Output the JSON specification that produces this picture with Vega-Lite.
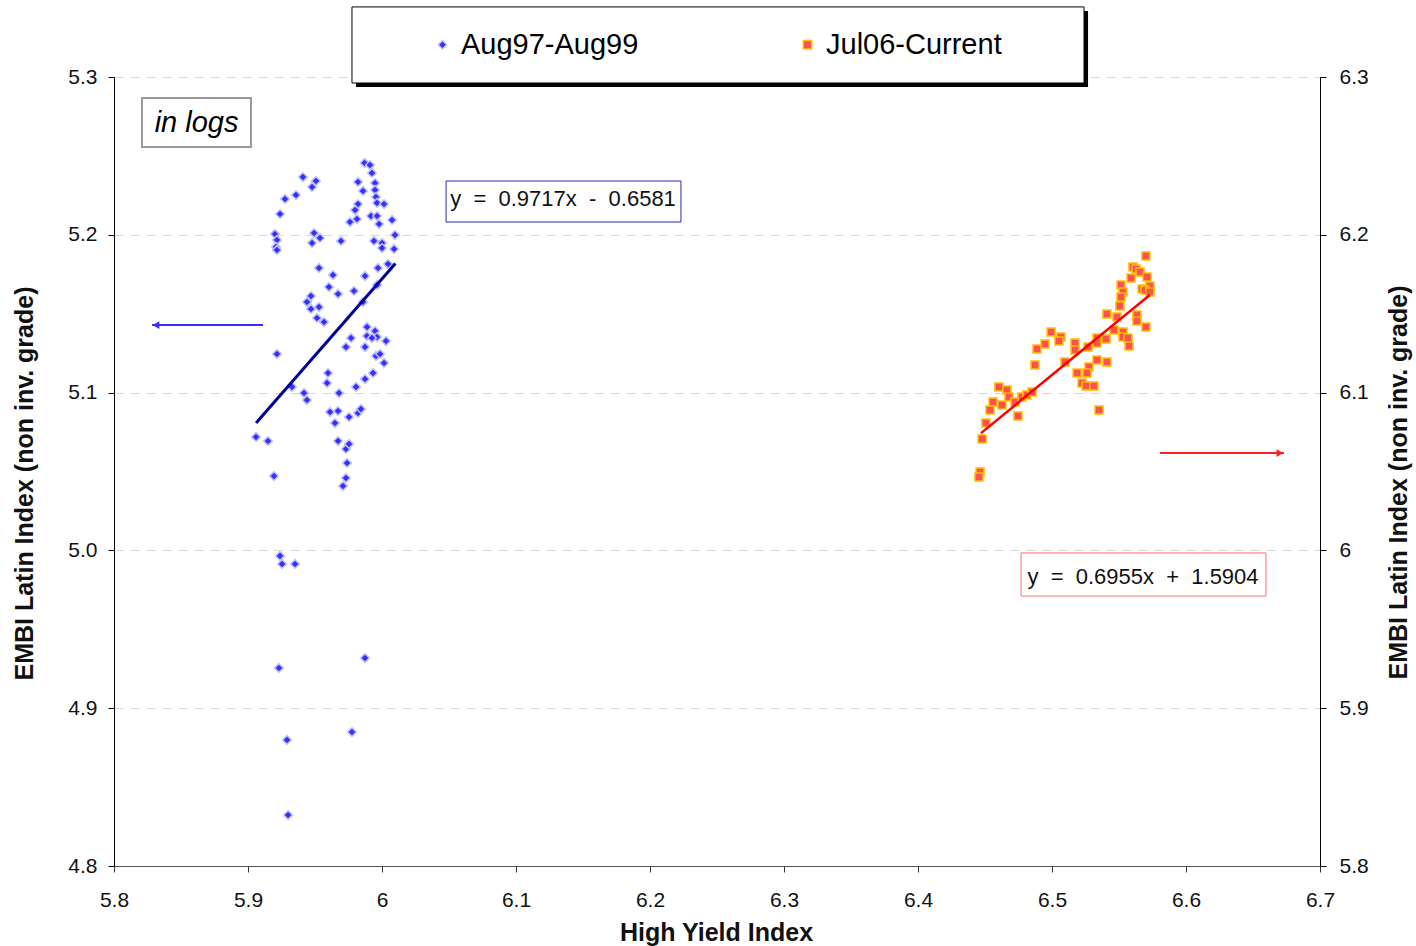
{
  "$schema": "https://vega.github.io/schema/vega-lite/v6.json",
  "width": 1206,
  "height": 789,
  "autosize": {"type": "none"},
  "padding": {"left": 114, "top": 77, "right": 96, "bottom": 80},
  "background": "white",
  "config": {
    "view": {"stroke": null},
    "font": "Liberation Sans",
    "axis": {
      "labelFont": "Liberation Sans", "labelFontSize": 21, "labelColor": "#111",
      "titleFont": "Liberation Sans", "titleFontSize": 25, "titleFontWeight": "bold", "titleColor": "#111",
      "tickColor": "#000", "domainColor": "#000", "tickSize": 6, "labelFlush": false,
      "gridColor": "#d9d9d9", "gridDash": [9, 7], "gridWidth": 1
    },
    "legend": {
      "orient": "none", "legendX": 314, "legendY": -47, "direction": "horizontal",
      "padding": 0, "columnPadding": 154, "labelOffset": 4,
      "labelFont": "Liberation Sans", "labelFontSize": 29, "labelColor": "#000", "labelLimit": 400,
      "symbolSize": 70, "symbolStrokeWidth": 1.5
    }
  },
  "datasets": {
    "blue": [
      {"x":5.987,"y":5.2455,"s":"Aug97-Aug99"},{"x":5.991,"y":5.2442,"s":"Aug97-Aug99"},{"x":5.9925,"y":5.2392,"s":"Aug97-Aug99"},{"x":5.941,"y":5.2366,"s":"Aug97-Aug99"},{"x":5.9507,"y":5.2341,"s":"Aug97-Aug99"},{"x":5.9478,"y":5.2303,"s":"Aug97-Aug99"},{"x":5.9821,"y":5.2335,"s":"Aug97-Aug99"},{"x":5.9948,"y":5.2328,"s":"Aug97-Aug99"},{"x":5.9858,"y":5.2278,"s":"Aug97-Aug99"},{"x":5.9358,"y":5.2252,"s":"Aug97-Aug99"},
      {"x":5.9276,"y":5.2227,"s":"Aug97-Aug99"},{"x":5.9948,"y":5.2284,"s":"Aug97-Aug99"},{"x":5.9955,"y":5.224,"s":"Aug97-Aug99"},{"x":5.9821,"y":5.2195,"s":"Aug97-Aug99"},{"x":5.9799,"y":5.2157,"s":"Aug97-Aug99"},{"x":5.9963,"y":5.2202,"s":"Aug97-Aug99"},{"x":6.0015,"y":5.2195,"s":"Aug97-Aug99"},{"x":5.9239,"y":5.2132,"s":"Aug97-Aug99"},{"x":5.9761,"y":5.2081,"s":"Aug97-Aug99"},{"x":5.9813,"y":5.21,"s":"Aug97-Aug99"},
      {"x":5.9918,"y":5.2119,"s":"Aug97-Aug99"},{"x":5.9963,"y":5.2119,"s":"Aug97-Aug99"},{"x":5.9978,"y":5.2068,"s":"Aug97-Aug99"},{"x":6.0075,"y":5.2094,"s":"Aug97-Aug99"},{"x":5.9201,"y":5.2005,"s":"Aug97-Aug99"},{"x":5.9216,"y":5.1967,"s":"Aug97-Aug99"},{"x":5.9209,"y":5.1923,"s":"Aug97-Aug99"},{"x":5.9216,"y":5.1904,"s":"Aug97-Aug99"},{"x":5.9493,"y":5.2011,"s":"Aug97-Aug99"},{"x":5.9537,"y":5.198,"s":"Aug97-Aug99"},
      {"x":5.9478,"y":5.1948,"s":"Aug97-Aug99"},{"x":5.9694,"y":5.1961,"s":"Aug97-Aug99"},{"x":5.994,"y":5.1961,"s":"Aug97-Aug99"},{"x":6.0,"y":5.1948,"s":"Aug97-Aug99"},{"x":6.0,"y":5.1916,"s":"Aug97-Aug99"},{"x":6.0097,"y":5.1999,"s":"Aug97-Aug99"},{"x":6.009,"y":5.191,"s":"Aug97-Aug99"},{"x":5.953,"y":5.179,"s":"Aug97-Aug99"},{"x":5.9634,"y":5.1745,"s":"Aug97-Aug99"},{"x":5.9873,"y":5.1739,"s":"Aug97-Aug99"},
      {"x":5.997,"y":5.179,"s":"Aug97-Aug99"},{"x":6.0045,"y":5.1815,"s":"Aug97-Aug99"},{"x":5.9604,"y":5.1669,"s":"Aug97-Aug99"},{"x":5.9672,"y":5.1625,"s":"Aug97-Aug99"},{"x":5.9791,"y":5.1644,"s":"Aug97-Aug99"},{"x":5.9963,"y":5.1682,"s":"Aug97-Aug99"},{"x":5.947,"y":5.1612,"s":"Aug97-Aug99"},{"x":5.944,"y":5.1574,"s":"Aug97-Aug99"},{"x":5.953,"y":5.1542,"s":"Aug97-Aug99"},{"x":5.947,"y":5.153,"s":"Aug97-Aug99"},
      {"x":5.9515,"y":5.1473,"s":"Aug97-Aug99"},{"x":5.9567,"y":5.1447,"s":"Aug97-Aug99"},{"x":5.9858,"y":5.1574,"s":"Aug97-Aug99"},{"x":5.9888,"y":5.1416,"s":"Aug97-Aug99"},{"x":5.9948,"y":5.139,"s":"Aug97-Aug99"},{"x":5.9888,"y":5.1359,"s":"Aug97-Aug99"},{"x":5.9963,"y":5.1352,"s":"Aug97-Aug99"},{"x":6.003,"y":5.1327,"s":"Aug97-Aug99"},{"x":5.9925,"y":5.1346,"s":"Aug97-Aug99"},{"x":5.9769,"y":5.1346,"s":"Aug97-Aug99"},
      {"x":5.9731,"y":5.1289,"s":"Aug97-Aug99"},{"x":5.9873,"y":5.1289,"s":"Aug97-Aug99"},{"x":5.9216,"y":5.1245,"s":"Aug97-Aug99"},{"x":5.9955,"y":5.1232,"s":"Aug97-Aug99"},{"x":5.9985,"y":5.1245,"s":"Aug97-Aug99"},{"x":6.0015,"y":5.1188,"s":"Aug97-Aug99"},{"x":5.9597,"y":5.1124,"s":"Aug97-Aug99"},{"x":5.959,"y":5.1061,"s":"Aug97-Aug99"},{"x":5.9933,"y":5.1124,"s":"Aug97-Aug99"},{"x":5.9873,"y":5.1086,"s":"Aug97-Aug99"},
      {"x":5.9806,"y":5.1036,"s":"Aug97-Aug99"},{"x":5.9328,"y":5.1036,"s":"Aug97-Aug99"},{"x":5.9418,"y":5.0997,"s":"Aug97-Aug99"},{"x":5.944,"y":5.0953,"s":"Aug97-Aug99"},{"x":5.9679,"y":5.0997,"s":"Aug97-Aug99"},{"x":5.9612,"y":5.0877,"s":"Aug97-Aug99"},{"x":5.9672,"y":5.0883,"s":"Aug97-Aug99"},{"x":5.9649,"y":5.0807,"s":"Aug97-Aug99"},{"x":5.9754,"y":5.0845,"s":"Aug97-Aug99"},{"x":5.9821,"y":5.0871,"s":"Aug97-Aug99"},
      {"x":5.9843,"y":5.0896,"s":"Aug97-Aug99"},{"x":5.906,"y":5.0719,"s":"Aug97-Aug99"},{"x":5.9149,"y":5.0693,"s":"Aug97-Aug99"},{"x":5.9672,"y":5.0693,"s":"Aug97-Aug99"},{"x":5.9731,"y":5.0643,"s":"Aug97-Aug99"},{"x":5.9754,"y":5.0674,"s":"Aug97-Aug99"},{"x":5.9739,"y":5.0554,"s":"Aug97-Aug99"},{"x":5.9194,"y":5.0471,"s":"Aug97-Aug99"},{"x":5.9731,"y":5.0459,"s":"Aug97-Aug99"},{"x":5.9709,"y":5.0408,"s":"Aug97-Aug99"},
      {"x":5.9239,"y":4.9965,"s":"Aug97-Aug99"},{"x":5.9254,"y":4.9914,"s":"Aug97-Aug99"},{"x":5.9351,"y":4.9914,"s":"Aug97-Aug99"},{"x":5.9231,"y":4.9255,"s":"Aug97-Aug99"},{"x":5.9873,"y":4.9318,"s":"Aug97-Aug99"},{"x":5.9776,"y":4.8849,"s":"Aug97-Aug99"},{"x":5.9291,"y":4.8799,"s":"Aug97-Aug99"},{"x":5.9299,"y":4.8323,"s":"Aug97-Aug99"}
    ],
    "red": [
      {"x":6.5701,"y":6.1866,"s":"Jul06-Current"},{"x":6.5604,"y":6.1796,"s":"Jul06-Current"},{"x":6.5627,"y":6.1783,"s":"Jul06-Current"},{"x":6.5657,"y":6.1764,"s":"Jul06-Current"},{"x":6.559,"y":6.1726,"s":"Jul06-Current"},{"x":6.5709,"y":6.1733,"s":"Jul06-Current"},{"x":6.5515,"y":6.1682,"s":"Jul06-Current"},{"x":6.5731,"y":6.1676,"s":"Jul06-Current"},{"x":6.5672,"y":6.1657,"s":"Jul06-Current"},{"x":6.5694,"y":6.165,"s":"Jul06-Current"},
      {"x":6.5731,"y":6.1638,"s":"Jul06-Current"},{"x":6.553,"y":6.1638,"s":"Jul06-Current"},{"x":6.5515,"y":6.1606,"s":"Jul06-Current"},{"x":6.5507,"y":6.1549,"s":"Jul06-Current"},{"x":6.541,"y":6.1498,"s":"Jul06-Current"},{"x":6.5485,"y":6.1479,"s":"Jul06-Current"},{"x":6.5634,"y":6.1492,"s":"Jul06-Current"},{"x":6.5634,"y":6.1454,"s":"Jul06-Current"},{"x":6.5701,"y":6.1416,"s":"Jul06-Current"},{"x":6.5463,"y":6.1397,"s":"Jul06-Current"},
      {"x":6.553,"y":6.1384,"s":"Jul06-Current"},{"x":6.553,"y":6.1352,"s":"Jul06-Current"},{"x":6.5567,"y":6.1346,"s":"Jul06-Current"},{"x":6.5575,"y":6.1295,"s":"Jul06-Current"},{"x":6.5403,"y":6.134,"s":"Jul06-Current"},{"x":6.5336,"y":6.1346,"s":"Jul06-Current"},{"x":6.5336,"y":6.1314,"s":"Jul06-Current"},{"x":6.5269,"y":6.1289,"s":"Jul06-Current"},{"x":6.5172,"y":6.1314,"s":"Jul06-Current"},{"x":6.5172,"y":6.127,"s":"Jul06-Current"},
      {"x":6.4993,"y":6.1384,"s":"Jul06-Current"},{"x":6.5067,"y":6.1352,"s":"Jul06-Current"},{"x":6.5052,"y":6.1327,"s":"Jul06-Current"},{"x":6.4948,"y":6.1308,"s":"Jul06-Current"},{"x":6.4888,"y":6.1276,"s":"Jul06-Current"},{"x":6.4873,"y":6.1175,"s":"Jul06-Current"},{"x":6.5097,"y":6.1194,"s":"Jul06-Current"},{"x":6.5336,"y":6.1207,"s":"Jul06-Current"},{"x":6.541,"y":6.1194,"s":"Jul06-Current"},{"x":6.5276,"y":6.1162,"s":"Jul06-Current"},
      {"x":6.5261,"y":6.1124,"s":"Jul06-Current"},{"x":6.5187,"y":6.1124,"s":"Jul06-Current"},{"x":6.5224,"y":6.1061,"s":"Jul06-Current"},{"x":6.5254,"y":6.1042,"s":"Jul06-Current"},{"x":6.5313,"y":6.1042,"s":"Jul06-Current"},{"x":6.5351,"y":6.089,"s":"Jul06-Current"},{"x":6.4604,"y":6.1036,"s":"Jul06-Current"},{"x":6.4664,"y":6.1016,"s":"Jul06-Current"},{"x":6.4679,"y":6.0972,"s":"Jul06-Current"},{"x":6.456,"y":6.094,"s":"Jul06-Current"},
      {"x":6.4537,"y":6.089,"s":"Jul06-Current"},{"x":6.4627,"y":6.0921,"s":"Jul06-Current"},{"x":6.4724,"y":6.094,"s":"Jul06-Current"},{"x":6.4776,"y":6.0972,"s":"Jul06-Current"},{"x":6.4813,"y":6.0985,"s":"Jul06-Current"},{"x":6.4851,"y":6.1004,"s":"Jul06-Current"},{"x":6.4746,"y":6.0852,"s":"Jul06-Current"},{"x":6.4507,"y":6.0807,"s":"Jul06-Current"},{"x":6.4478,"y":6.0706,"s":"Jul06-Current"},{"x":6.4463,"y":6.0497,"s":"Jul06-Current"},
      {"x":6.4455,"y":6.0465,"s":"Jul06-Current"}
    ]
  },
  "encoding": {
    "x": {
      "field": "x", "type": "quantitative", "title": "High Yield Index",
      "scale": {"domain": [5.8, 6.7], "nice": false, "zero": false},
      "axis": {
        "orient": "bottom", "values": [5.8, 5.9, 6.0, 6.1, 6.2, 6.3, 6.4, 6.5, 6.6, 6.7], "format": ".2~f",
        "grid": false, "domainColor": "#555", "tickColor": "#333",
        "labelBaseline": "alphabetic", "labelPadding": 34,
        "titleY": 74, "titleBaseline": "alphabetic", "titleX": 602
      }
    }
  },
  "layer": [
    {
      "encoding": {
        "y": {
          "field": "y", "type": "quantitative", "title": "EMBI Latin Index (non inv. grade)",
          "scale": {"domain": [4.8, 5.3], "nice": false, "zero": false},
          "axis": {
            "orient": "left", "values": [4.8, 4.9, 5.0, 5.1, 5.2, 5.3], "format": ".1f",
            "grid": true, "labelPadding": 11,
            "titleAngle": 270, "titleX": -82, "titleY": 406, "titleAlign": "center", "titleBaseline": "alphabetic"
          }
        }
      },
      "layer": [
        {
          "data": {"values": [{"x": 5.9806, "x2": 6.5269, "y": 5.2937, "y2": 5.3419}]},
          "mark": {"type": "rect", "fill": "#000", "stroke": null},
          "encoding": {"x2": {"field": "x2"}, "y2": {"field": "y2"}}
        },
        {
          "data": {"values": [{"x": 5.9776, "x2": 6.5239, "y": 5.2962, "y2": 5.3444}]},
          "mark": {"type": "rect", "fill": "#fff", "stroke": "#000", "strokeWidth": 1},
          "encoding": {"x2": {"field": "x2"}, "y2": {"field": "y2"}}
        },
        {
          "data": {"values": [{"x": 5.8209, "x2": 5.9022, "y": 5.2556, "y2": 5.2867}]},
          "mark": {"type": "rect", "fill": "#fff", "stroke": "#999", "strokeWidth": 2},
          "encoding": {"x2": {"field": "x2"}, "y2": {"field": "y2"}}
        },
        {
          "data": {"values": [{"x": 5.8616, "y": 5.2709, "t": "in logs"}]},
          "mark": {"type": "text", "font": "Liberation Sans", "fontStyle": "italic", "fontSize": 29, "color": "#000", "align": "center", "baseline": "middle"},
          "encoding": {"text": {"field": "t"}}
        },
        {
          "data": {"values": [{"x": 6.0478, "x2": 6.2231, "y": 5.2081, "y2": 5.2341}]},
          "mark": {"type": "rect", "fill": "#fff", "stroke": "#2a2ab0", "strokeWidth": 1},
          "encoding": {"x2": {"field": "x2"}, "y2": {"field": "y2"}}
        },
        {
          "data": {"values": [{"x": 6.1351, "y": 5.2224, "t": "y \u00a0=\u00a0 0.9717x \u00a0-\u00a0 0.6581"}]},
          "mark": {"type": "text", "font": "Liberation Sans", "fontSize": 22, "color": "#111", "align": "center", "baseline": "middle"},
          "encoding": {"text": {"field": "t"}}
        },
        {
          "data": {"values": [{"x": 5.8284, "x2": 5.9112, "y": 5.1428}]},
          "mark": {"type": "rule", "color": "#3a2cff", "strokeWidth": 2},
          "encoding": {"x2": {"field": "x2"}}
        },
        {
          "data": {"values": [{"x": 5.8313, "y": 5.1428}]},
          "mark": {"type": "point", "shape": "triangle-left", "size": 60, "filled": true, "color": "#3a2cff", "opacity": 1},
          "encoding": {}
        },
        {
          "data": {"name": "blue"},
          "mark": {"type": "point", "filled": true, "size": 75, "strokeWidth": 1.5, "opacity": 1},
          "encoding": {
            "fill": {"field": "s", "type": "nominal", "title": null,
              "scale": {"domain": ["Aug97-Aug99", "Jul06-Current"], "range": ["#3a2cff", "#ff5050"]}},
            "stroke": {"field": "s", "type": "nominal", "title": null,
              "scale": {"domain": ["Aug97-Aug99", "Jul06-Current"], "range": ["#b8c0ff", "#ffc000"]}},
            "shape": {"field": "s", "type": "nominal", "title": null,
              "scale": {"domain": ["Aug97-Aug99", "Jul06-Current"], "range": ["diamond", "square"]}}
          }
        },
        {
          "data": {"values": [{"x": 5.906, "y": 5.0808}, {"x": 6.01, "y": 5.1818}]},
          "mark": {"type": "line", "color": "#000099", "strokeWidth": 3},
          "encoding": {}
        }
      ]
    },
    {
      "encoding": {
        "y": {
          "field": "y", "type": "quantitative", "title": "EMBI Latin Index (non inv. grade)",
          "scale": {"domain": [5.8, 6.3], "nice": false, "zero": false},
          "axis": {
            "orient": "right", "values": [5.8, 5.9, 6.0, 6.1, 6.2, 6.3], "format": ".2~f",
            "grid": false, "labelPadding": 13,
            "titleAngle": 270, "titleX": 86, "titleY": 405, "titleAlign": "center", "titleBaseline": "alphabetic"
          }
        }
      },
      "layer": [
        {
          "data": {"values": [{"x": 6.4769, "x2": 6.6597, "y": 5.9711, "y2": 5.9984}]},
          "mark": {"type": "rect", "fill": "#fff", "stroke": "#ff7070", "strokeWidth": 1},
          "encoding": {"x2": {"field": "x2"}, "y2": {"field": "y2"}}
        },
        {
          "data": {"values": [{"x": 6.5679, "y": 5.9834, "t": "y \u00a0=\u00a0 0.6955x \u00a0+\u00a0 1.5904"}]},
          "mark": {"type": "text", "font": "Liberation Sans", "fontSize": 22, "color": "#111", "align": "center", "baseline": "middle"},
          "encoding": {"text": {"field": "t"}}
        },
        {
          "data": {"values": [{"x": 6.5806, "x2": 6.6731, "y": 6.0617}]},
          "mark": {"type": "rule", "color": "#ff2020", "strokeWidth": 2},
          "encoding": {"x2": {"field": "x2"}}
        },
        {
          "data": {"values": [{"x": 6.6701, "y": 6.0617}]},
          "mark": {"type": "point", "shape": "triangle-right", "size": 60, "filled": true, "color": "#ff2020", "opacity": 1},
          "encoding": {}
        },
        {
          "data": {"name": "red"},
          "mark": {"type": "point", "filled": true, "size": 64, "strokeWidth": 1.5, "opacity": 1},
          "encoding": {
            "fill": {"field": "s", "type": "nominal", "title": null},
            "stroke": {"field": "s", "type": "nominal", "title": null},
            "shape": {"field": "s", "type": "nominal", "title": null}
          }
        },
        {
          "data": {"values": [{"x": 6.447, "y": 6.0743}, {"x": 6.573, "y": 6.1619}]},
          "mark": {"type": "line", "color": "#ff0000", "strokeWidth": 2.5},
          "encoding": {}
        }
      ]
    }
  ],
  "resolve": {"scale": {"y": "independent"}}
}
